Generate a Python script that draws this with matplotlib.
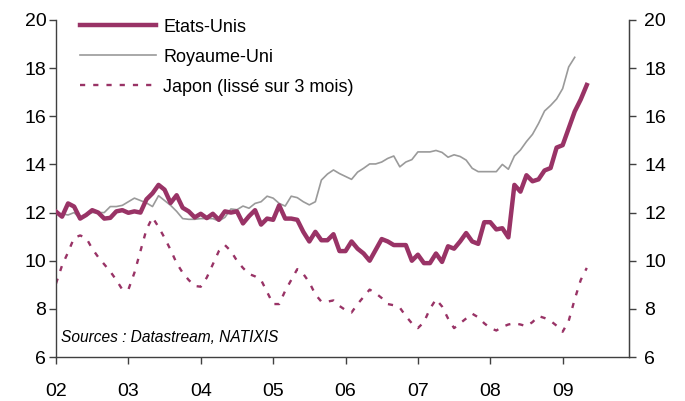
import matplotlib
matplotlib.use("Agg")
import matplotlib.pyplot as plt
import numpy as np

plt.rcParams['font.family'] = ['Liberation Sans', 'DejaVu Sans']

# Monthly data, Jan 2002 onward (index 0 = Jan 2002)
etats_unis = [12.04, 11.83, 12.38, 12.25, 11.75, 11.9, 12.1, 12.0, 11.75, 11.78,
              12.05, 12.1, 11.99, 12.05, 12.0, 12.55, 12.8, 13.15, 12.95, 12.4,
              12.72, 12.2, 12.05, 11.8, 11.95, 11.77, 11.95, 11.7, 12.05, 12.0,
              12.05, 11.55, 11.85, 12.1, 11.5, 11.75, 11.7, 12.3, 11.75, 11.75,
              11.7, 11.2, 10.8, 11.2, 10.85, 10.85, 11.1, 10.4, 10.4, 10.8,
              10.5, 10.3, 10.0, 10.45, 10.9, 10.8, 10.65, 10.65, 10.65, 10.0,
              10.25, 9.9, 9.9, 10.3, 9.95, 10.6, 10.5, 10.8, 11.15, 10.8,
              10.7, 11.6, 11.6, 11.3, 11.35, 10.97, 13.15, 12.87, 13.55, 13.3,
              13.38, 13.75, 13.85, 14.7, 14.8, 15.5, 16.2, 16.7, 17.3]

royaume_uni = [11.95, 11.95, 11.9, 12.0, 11.75, 11.9, 12.0, 12.0, 12.0, 12.25,
               12.25, 12.3, 12.45, 12.6, 12.5, 12.4, 12.25, 12.7, 12.5, 12.3,
               12.05, 11.75, 11.72, 11.72, 11.75, 11.75, 11.75, 11.65, 11.8, 12.15,
               12.12, 12.27, 12.18, 12.38, 12.45, 12.68, 12.6, 12.38, 12.27, 12.68,
               12.62, 12.45, 12.32, 12.45, 13.35, 13.6, 13.77, 13.62, 13.5, 13.38,
               13.68, 13.84, 14.02, 14.02, 14.1, 14.25, 14.35, 13.9, 14.1, 14.2,
               14.52, 14.52, 14.52, 14.58, 14.5, 14.3, 14.4, 14.33, 14.18, 13.84,
               13.7, 13.7, 13.7, 13.7, 14.0, 13.8, 14.35, 14.6, 14.95, 15.25,
               15.7, 16.22, 16.45, 16.72, 17.15, 18.05, 18.45]

japon = [9.05, 9.8, 10.35, 10.95, 11.05, 10.95, 10.5, 10.15, 9.85, 9.55,
         9.2, 8.8, 8.8, 9.5, 10.4, 11.3, 11.8, 11.4, 10.95, 10.45,
         9.9, 9.5, 9.2, 8.95, 8.92, 9.3, 9.85, 10.4, 10.65, 10.4,
         10.0, 9.7, 9.45, 9.35, 9.2, 8.7, 8.2, 8.2, 8.75, 9.2,
         9.65, 9.45, 9.1, 8.6, 8.3, 8.3, 8.35, 8.12, 7.95, 7.85,
         8.2, 8.5, 8.8, 8.65, 8.45, 8.2, 8.15, 8.05, 7.7, 7.4,
         7.2, 7.45, 8.0, 8.4, 8.1, 7.6, 7.2, 7.4, 7.6, 7.8,
         7.65, 7.4, 7.2, 7.1, 7.25, 7.35, 7.4, 7.35, 7.28, 7.45,
         7.7, 7.62, 7.5, 7.3, 7.05, 7.5, 8.4, 9.2, 9.7]

year_labels = ['02', '03', '04', '05', '06', '07', '08', '09']
y_ticks = [6, 8, 10, 12, 14, 16, 18, 20]

maroon = '#993366'
grey = '#9a9a9a'
spine_col = '#404040'

fig = plt.figure(figsize=(6.85, 4.01), dpi=100)
ax = fig.add_axes([56/685, 44/401, 573/685, 337/401])

ax.plot(np.arange(len(etats_unis)), etats_unis, color=maroon, lw=3.2,
        solid_joinstyle='round', label='Etats-Unis', zorder=3)
ax.plot(np.arange(len(royaume_uni)), royaume_uni, color=grey, lw=1.2,
        label='Royaume-Uni', zorder=2)
ax.plot(np.arange(len(japon)), japon, color=maroon, lw=1.7,
        linestyle=(0, (2.2, 3.4)), label='Japon (lissé sur 3 mois)', zorder=2)

ax.set_xlim(0, 95)
ax.set_ylim(6, 20)
ax.set_xticks([12 * i for i in range(len(year_labels))])
ax.set_xticklabels(year_labels)
ax.set_yticks(y_ticks)
ax.set_yticklabels([str(v) for v in y_ticks])

ax.spines['top'].set_visible(False)
for s in ['left', 'right', 'bottom']:
    ax.spines[s].set_color(spine_col)
    ax.spines[s].set_linewidth(1.0)

ax.tick_params(axis='x', direction='out', length=5, width=1, color=spine_col,
               labelsize=14, pad=14)
ax.tick_params(axis='y', direction='out', length=5, width=1, color=spine_col,
               labelsize=14, pad=2)

ax2 = ax.twinx()
ax2.set_ylim(6, 20)
ax2.set_yticks(y_ticks)
ax2.set_yticklabels([str(v) for v in y_ticks])
ax2.spines['top'].set_visible(False)
ax2.spines['right'].set_color(spine_col)
ax2.spines['left'].set_visible(False)
ax2.spines['bottom'].set_visible(False)
ax2.tick_params(axis='y', direction='out', length=5, width=1, color=spine_col,
                labelsize=14, pad=6)

leg = ax.legend(loc='upper left', bbox_to_anchor=(0.03, 1.025), frameon=False,
                fontsize=13, handlelength=4.2, handletextpad=0.4,
                labelspacing=0.72, borderaxespad=0)

ax.text(0.009, 1 - (338 - 20) / 337, 'Sources : Datastream, NATIXIS',
        transform=ax.transAxes, fontsize=11.2, style='italic',
        va='center', ha='left')

fig.savefig('out.png', dpi=100)
